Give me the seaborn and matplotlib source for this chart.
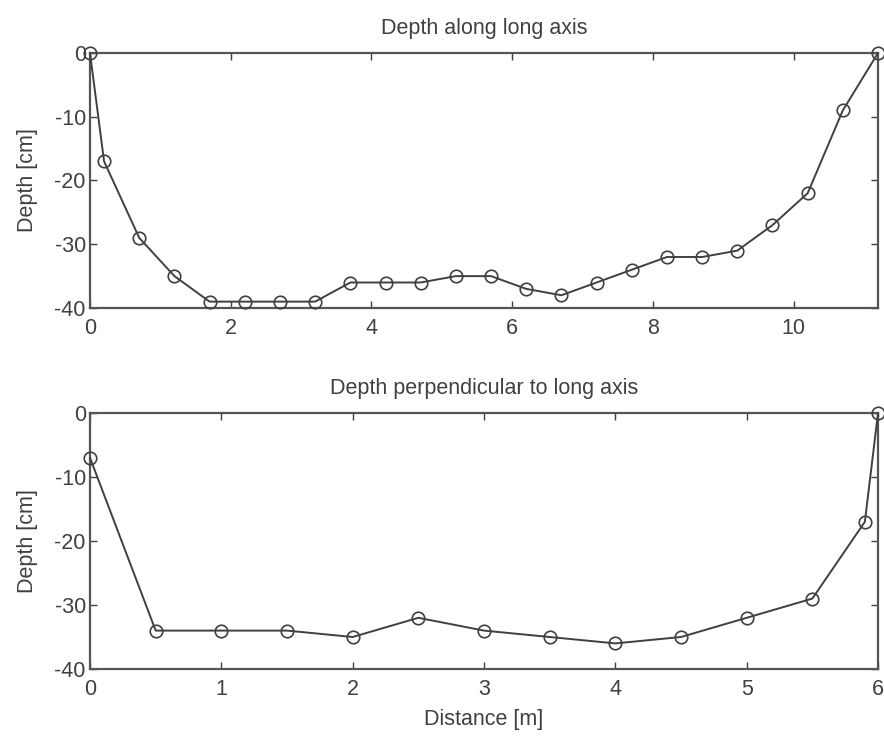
import matplotlib
matplotlib.use("Agg")
import matplotlib.pyplot as plt
import seaborn as sns
import pandas as pd

# Survey profiles of the pit
long_dist = [0, 0.2, 0.7, 1.2, 1.7, 2.2, 2.7, 3.2, 3.7, 4.2, 4.7, 5.2, 5.7,
             6.2, 6.7, 7.2, 7.7, 8.2, 8.7, 9.2, 9.7, 10.2, 10.7, 11.2]
long_depth = [0, -17, -29, -35, -39, -39, -39, -39, -36, -36, -36, -35, -35,
              -37, -38, -36, -34, -32, -32, -31, -27, -22, -9, 0]

perp_dist = [0, 0.5, 1, 1.5, 2, 2.5, 3, 3.5, 4, 4.5, 5, 5.5, 5.9, 6]
perp_depth = [-7, -34, -34, -34, -35, -32, -34, -35, -36, -35, -32, -29, -17, 0]

long_xticks = [0, 2, 4, 6, 8, 10]
perp_xticks = [0, 1, 2, 3, 4, 5, 6]
yticks = [0, -10, -20, -30, -40]

sns.set_style("ticks")
plt.rcParams["font.family"] = ["Liberation Sans", "DejaVu Sans"]
plt.rcParams["axes.unicode_minus"] = False
plt.rcParams["xtick.direction"] = "in"
plt.rcParams["ytick.direction"] = "in"

ink = "#404040"
fs = 15.5
fig = plt.figure(figsize=(8.84, 7.36), dpi=100)
ax1 = fig.add_axes([90 / 884, 1 - 308 / 736, 788 / 884, 255 / 736])
ax2 = fig.add_axes([90 / 884, 1 - 669 / 736, 788 / 884, 256 / 736])

panels = [
    (ax1, long_dist, long_depth, long_xticks, 11.2, "Depth along long axis"),
    (ax2, perp_dist, perp_depth, perp_xticks, 6.0, "Depth perpendicular to long axis"),
]
for ax, xs, ys, xt, xmax, title in panels:
    df = pd.DataFrame({"dist": xs, "depth": ys})
    sns.lineplot(data=df, x="dist", y="depth", ax=ax, color=ink, linewidth=1.4,
                 marker="o", markersize=9, markerfacecolor="none",
                 markeredgecolor=ink, markeredgewidth=1.2, clip_on=False,
                 zorder=5)
    ax.set_xlim(0, xmax)
    ax.set_ylim(-40, 0)
    ax.set_xticks(xt)
    ax.set_yticks(yticks)
    ax.tick_params(axis="both", which="both", top=True, right=True,
                   labelsize=fs, colors=ink, length=5, width=1)
    ax.tick_params(axis="x", pad=7)
    ax.tick_params(axis="y", pad=3)
    for sp in ax.spines.values():
        sp.set_visible(True)
        sp.set_color("#555555")
        sp.set_linewidth(1.6)
    ax.set_title(title, fontsize=fs, color=ink, pad=14)
    ax.set_ylabel("Depth [cm]", fontsize=fs, color=ink, labelpad=12)
    ax.set_xlabel("")

ax2.set_xlabel("Distance [m]", fontsize=fs, color=ink, labelpad=7)

fig.savefig("out.png", dpi=100, facecolor="white")
